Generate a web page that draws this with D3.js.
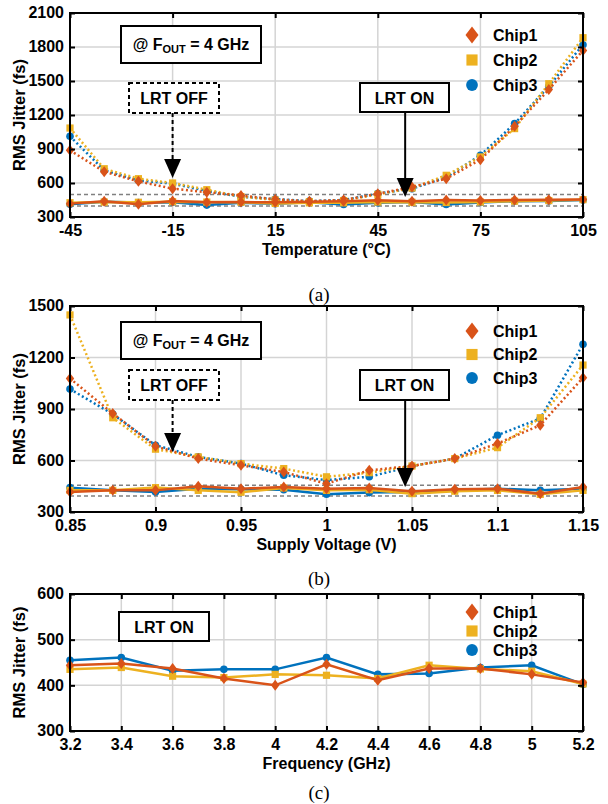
<!DOCTYPE html>
<html>
<head>
<meta charset="utf-8">
<script src="https://cdn.jsdelivr.net/npm/d3@7"></script>
<style>
  body { margin: 0; background: #fff; }
  text { font-family: "Liberation Sans", Arial, sans-serif; font-weight: bold; fill: #000; }
  .caption { font-family: "Liberation Serif", "Times New Roman", serif; font-weight: normal; }
</style>
</head>
<body>
<svg width="608" height="804"></svg>
<script>
// ---- data ----
var chipNames = ["Chip1", "Chip2", "Chip3"];

// (a) temperature sweep
var tempC = [-45, -35, -25, -15, -5, 5, 15, 25, 35, 45, 55, 65, 75, 85, 95, 105];
var tempOff1 = [888, 700, 615, 550, 518, 490, 455, 440, 450, 505, 565, 638, 806, 1100, 1424, 1770];
var tempOff2 = [1085, 726, 638, 600, 541, 480, 450, 435, 445, 500, 555, 668, 830, 1080, 1476, 1882];
var tempOff3 = [1012, 712, 623, 594, 530, 478, 458, 440, 450, 506, 550, 650, 844, 1124, 1453, 1820];
var tempOn1 = [418, 440, 412, 441, 430, 432, 430, 435, 440, 447, 440, 450, 445, 450, 452, 455];
var tempOn2 = [426, 432, 430, 435, 432, 430, 420, 425, 425, 432, 430, 428, 432, 440, 445, 453];
var tempOn3 = [412, 435, 428, 430, 405, 425, 418, 430, 410, 425, 432, 410, 428, 440, 442, 450];
var tempTicks = [-45, -15, 15, 45, 75, 105];
var tempYTicks = [300, 600, 900, 1200, 1500, 1800, 2100];
var tempRefs = [498, 397];

// (b) supply voltage sweep
var volt = [0.85, 0.875, 0.9, 0.925, 0.95, 0.975, 1.0, 1.025, 1.05, 1.075, 1.1, 1.125, 1.15];
var voltOff1 = [1078, 874, 683, 611, 572, 533, 465, 543, 568, 611, 699, 806, 1082];
var voltOff2 = [1448, 849, 666, 621, 582, 553, 505, 529, 568, 611, 675, 849, 1156];
var voltOff3 = [1016, 870, 689, 621, 582, 514, 486, 505, 568, 611, 747, 845, 1277];
var voltOn1 = [417, 426, 426, 450, 436, 446, 436, 440, 421, 432, 436, 407, 446];
var voltOn2 = [426, 426, 442, 426, 415, 440, 426, 430, 407, 421, 426, 403, 426];
var voltOn3 = [442, 426, 417, 436, 432, 430, 403, 413, 417, 426, 436, 426, 436];
var voltTicks = [0.85, 0.9, 0.95, 1, 1.05, 1.1, 1.15];
var voltYTicks = [300, 600, 900, 1200, 1500];
var voltRefs = [456, 393];

// (c) frequency sweep (LRT on only)
var freq = [3.2, 3.4, 3.6, 3.8, 4.0, 4.2, 4.4, 4.6, 4.8, 5.0, 5.2];
var freqOn1 = [444, 448, 437, 415, 400, 446, 411, 437, 437, 424, 406];
var freqOn2 = [435, 439, 420, 417, 424, 422, 415, 444, 436, 431, 403];
var freqOn3 = [455, 461, 432, 435, 435, 461, 424, 426, 439, 444, 402];
var freqTicks = [3.2, 3.4, 3.6, 3.8, 4, 4.2, 4.4, 4.6, 4.8, 5, 5.2];
var freqYTicks = [300, 400, 500, 600];

var colors = ["#D95319", "#EDB120", "#0072BD"];
var drawOrder = [2, 1, 0]; // blue under, orange on top

var svg = d3.select("svg");
var L = 70, R = 583;
var plain = function(d) { return String(d); };

function marker(sel, i, s) {
  // 0 diamond, 1 square, 2 circle; s = scale
  if (i === 0) {
    sel.append("path").attr("d", "M0," + (-5.5 * s) + "L" + (4.2 * s) + ",0L0," + (5.5 * s) + "L" + (-4.2 * s) + ",0Z");
  } else if (i === 1) {
    sel.append("rect").attr("x", -3.6 * s).attr("y", -3.6 * s).attr("width", 7.2 * s).attr("height", 7.2 * s);
  } else {
    sel.append("circle").attr("r", 3.8 * s);
  }
}

function drawPanel(p) {
  var g = svg.append("g");
  var x = d3.scaleLinear().domain(p.xDomain).range([L, R]);
  var y = d3.scaleLinear().domain(p.yDomain).range([p.bottom, p.top]);

  // grid
  g.selectAll(".gx").data(p.xTicks).enter().append("line")
    .attr("x1", function(d) { return x(d); }).attr("x2", function(d) { return x(d); })
    .attr("y1", p.top).attr("y2", p.bottom)
    .attr("stroke", "#d4d4d4").attr("stroke-width", 1.5);
  g.selectAll(".gy").data(p.yTicks).enter().append("line")
    .attr("x1", L).attr("x2", R)
    .attr("y1", function(d) { return y(d); }).attr("y2", function(d) { return y(d); })
    .attr("stroke", "#d4d4d4").attr("stroke-width", 1.5);

  // reference dashed lines
  if (p.refs) {
    g.selectAll(".ref").data(p.refs).enter().append("line")
      .attr("x1", L).attr("x2", R)
      .attr("y1", function(d) { return y(d); }).attr("y2", function(d) { return y(d); })
      .attr("stroke", "#808080").attr("stroke-width", 1.5).attr("stroke-dasharray", "4,3");
  }

  var line = d3.line().x(function(d) { return x(d[0]); }).y(function(d) { return y(d[1]); });

  function series(vals, dotted) {
    drawOrder.forEach(function(i) {
      var pts = p.xs.map(function(v, k) { return [v, vals[i][k]]; });
      g.append("path").datum(pts).attr("d", line)
        .attr("fill", "none").attr("stroke", colors[i]).attr("stroke-width", 2.5)
        .attr("stroke-dasharray", dotted ? "2,2.6" : null);
      var m = g.selectAll(null).data(pts).enter().append("g")
        .attr("transform", function(d) { return "translate(" + x(d[0]) + "," + y(d[1]) + ")"; })
        .attr("fill", colors[i]);
      marker(m, i, 1);
    });
  }
  if (p.off) series(p.off, true);
  series(p.on, false);

  // axes (box style, ticks inside)
  var ax = g.append("g").attr("transform", "translate(0," + p.bottom + ")")
    .call(d3.axisBottom(x).tickValues(p.xTicks).tickSize(-5).tickSizeOuter(0).tickPadding(7).tickFormat(plain));
  var at = g.append("g").attr("transform", "translate(0," + p.top + ")")
    .call(d3.axisTop(x).tickValues(p.xTicks).tickSize(-5).tickSizeOuter(0).tickFormat(""));
  var ay = g.append("g").attr("transform", "translate(" + L + ",0)")
    .call(d3.axisLeft(y).tickValues(p.yTicks).tickSize(-5).tickSizeOuter(0).tickPadding(6).tickFormat(plain));
  var ar = g.append("g").attr("transform", "translate(" + R + ",0)")
    .call(d3.axisRight(y).tickValues(p.yTicks).tickSize(-5).tickSizeOuter(0).tickFormat(""));
  [ax, at, ay, ar].forEach(function(a) {
    a.select(".domain").remove();
    a.selectAll(".tick line").attr("stroke", "#000").attr("stroke-width", 2);
    a.selectAll("text").attr("font-size", 16).attr("font-family", "Liberation Sans, Arial, sans-serif")
      .attr("font-weight", "bold").attr("fill", "#000");
  });
  ax.selectAll("text").attr("dy", "0.72em");
  ay.selectAll("text").attr("dy", "0.3em");
  g.append("rect").attr("x", L).attr("y", p.top).attr("width", R - L).attr("height", p.bottom - p.top)
    .attr("fill", "none").attr("stroke", "#000").attr("stroke-width", 2);

  // axis titles
  g.append("text").attr("x", (L + R) / 2).attr("y", p.bottom + 38)
    .attr("text-anchor", "middle").attr("font-size", 16).text(p.xLabel);
  g.append("text").attr("transform", "translate(25," + ((p.top + p.bottom) / 2) + ") rotate(-90)")
    .attr("text-anchor", "middle").attr("font-size", 16.5).text("RMS Jitter (fs)");

  // legend
  var lg = g.selectAll(".lg").data(chipNames).enter().append("g")
    .attr("transform", function(d, i) { return "translate(472," + (p.legendY + i * p.legendStep) + ")"; });
  lg.each(function(d, i) {
    var s = d3.select(this).append("g").attr("fill", colors[i]);
    marker(s, i, 1.55);
  });
  lg.append("text").attr("x", 21).attr("y", 5.5).attr("font-size", 16).text(function(d) { return d; });

  // annotations
  if (p.fout) {
    var b = p.fout;
    g.append("rect").attr("x", b[0]).attr("y", b[1]).attr("width", 140).attr("height", 37)
      .attr("fill", "#fff").attr("stroke", "#000").attr("stroke-width", 2);
    var t = g.append("text").attr("x", b[0] + 70).attr("y", b[1] + 24).attr("text-anchor", "middle").attr("font-size", 16);
    t.append("tspan").text("@ F");
    t.append("tspan").attr("font-size", 11).attr("dy", 3).text("OUT");
    t.append("tspan").attr("dy", -3).text(" = 4 GHz");
  }
  function box(bx, label, dashed) {
    g.append("rect").attr("x", bx[0]).attr("y", bx[1]).attr("width", bx[2]).attr("height", bx[3])
      .attr("fill", "#fff").attr("stroke", "#000").attr("stroke-width", 2)
      .attr("stroke-dasharray", dashed ? "4,3" : null);
    g.append("text").attr("x", bx[0] + bx[2] / 2).attr("y", bx[1] + bx[3] / 2 + 6)
      .attr("text-anchor", "middle").attr("font-size", 16).text(label);
  }
  function arrow(ax0, tipY, fromY, dashed) {
    var px = x(ax0), py = y(tipY);
    g.append("line").attr("x1", px).attr("x2", px).attr("y1", fromY).attr("y2", py - 16)
      .attr("stroke", "#000").attr("stroke-width", 2).attr("stroke-dasharray", dashed ? "4,3" : null);
    g.append("path").attr("d", "M" + (px - 8.5) + "," + (py - 19) + "L" + (px + 8.5) + "," + (py - 19) + "L" + px + "," + py + "Z")
      .attr("fill", "#000");
  }
  if (p.offBox) {
    arrow(p.offArrow[0], p.offArrow[1], p.offBox[1] + p.offBox[3], true);
    box(p.offBox, "LRT OFF", true);
  }
  if (p.onArrow) {
    arrow(p.onArrow[0], p.onArrow[1], p.onBox[1] + p.onBox[3], false);
  }
  box(p.onBox, "LRT ON", false);

  // caption
  g.append("text").attr("class", "caption").attr("x", 319).attr("y", p.captionY)
    .attr("text-anchor", "middle").attr("font-size", 19).text(p.caption);
}

drawPanel({
  top: 13, bottom: 217, xDomain: [-45, 105], yDomain: [300, 2100],
  xs: tempC, off: [tempOff1, tempOff2, tempOff3], on: [tempOn1, tempOn2, tempOn3],
  xTicks: tempTicks, yTicks: tempYTicks, refs: tempRefs,
  xLabel: "Temperature (°C)", legendY: 35, legendStep: 25,
  fout: [121, 26], offBox: [129, 83, 90, 30], offArrow: [-15, 644],
  onBox: [360, 83, 89, 29], onArrow: [53, 476],
  caption: "(a)", captionY: 301
});

drawPanel({
  top: 306, bottom: 512, xDomain: [0.85, 1.15], yDomain: [300, 1500],
  xs: volt, off: [voltOff1, voltOff2, voltOff3], on: [voltOn1, voltOn2, voltOn3],
  xTicks: voltTicks, yTicks: voltYTicks, refs: voltRefs,
  xLabel: "Supply Voltage (V)", legendY: 331, legendStep: 23.5,
  fout: [121, 322], offBox: [129, 370, 90, 30], offArrow: [0.91, 649],
  onBox: [360, 370, 89, 30], onArrow: [1.046, 445],
  caption: "(b)", captionY: 585
});

drawPanel({
  top: 594, bottom: 731, xDomain: [3.2, 5.2], yDomain: [300, 600],
  xs: freq, on: [freqOn1, freqOn2, freqOn3],
  xTicks: freqTicks, yTicks: freqYTicks,
  xLabel: "Frequency (GHz)", legendY: 612, legendStep: 19,
  onBox: [119, 612, 90, 29],
  caption: "(c)", captionY: 799
});
</script>
</body>
</html>
